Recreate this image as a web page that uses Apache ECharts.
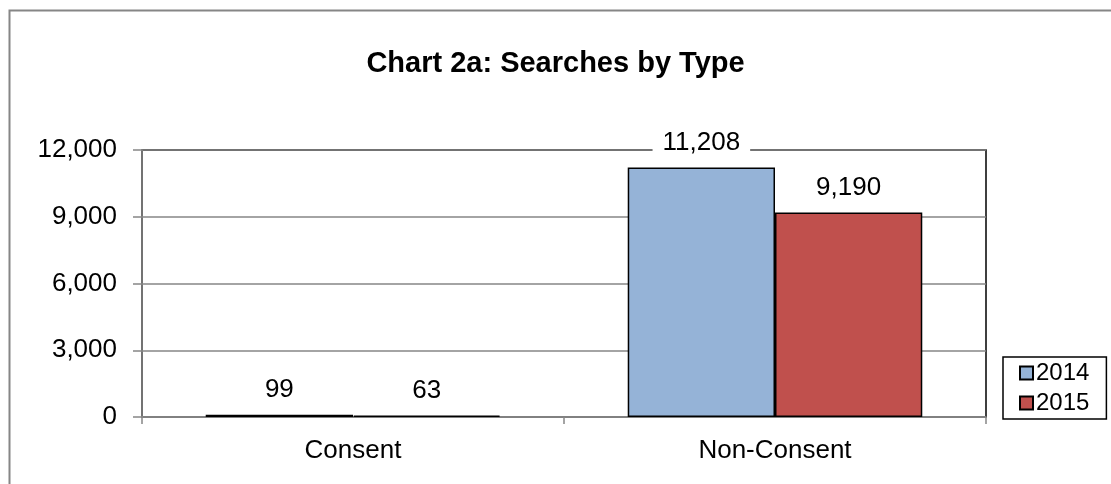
<!DOCTYPE html>
<html>
<head>
<meta charset="utf-8">
<script src="https://cdn.jsdelivr.net/npm/echarts@6/dist/echarts.min.js"></script>
<style>
html,body{margin:0;padding:0;background:#fff;}
#chart{width:1111px;height:484px;}
</style>
</head>
<body>
<div id="chart"></div>
<script>
var categories = ['Consent', 'Non-Consent'];
var seriesNames = ['2014', '2015'];
var values2014 = [99, 11208];
var values2015 = [63, 9190];
var yTicks = [0, 3000, 6000, 9000, 12000];

var FONT = "'Liberation Sans', Arial, sans-serif";
var chart = echarts.init(document.getElementById('chart'));
function fmt(v){ return echarts.format.addCommas(v); }
var labelCfg = {
  show: true, position: 'top', distance: 12,
  fontFamily: FONT, fontSize: 26, color: '#000',
  backgroundColor: '#fff', padding: [0, 10], lineHeight: 26,
  formatter: function(p){ return fmt(p.value); }
};
chart.setOption({
  backgroundColor: '#fff',
  animation: false,
  title: {
    text: 'Chart 2a: Searches by Type',
    left: 'center', top: 44,
    textStyle: {fontFamily: FONT, fontSize: 29, fontWeight: 'bold', color: '#000'}
  },
  graphic: [{
    type: 'rect', left: 7, top: 8, z: -10,
    shape: {width: 1300, height: 700},
    style: {fill: 'none', stroke: '#868686', lineWidth: 2}
  }],
  legend: {
    orient: 'vertical', left: 1003, top: 357,
    data: seriesNames,
    itemWidth: 13, itemHeight: 13, itemGap: 6,
    padding: [4, 17, 4, 16],
    borderColor: '#000', borderWidth: 1.5,
    textStyle: {fontFamily: FONT, fontSize: 24, color: '#000', lineHeight: 24, padding: [0,0,0,-2]},
    icon: 'rect'
  },
  grid: {
    left: 142, right: 125, top: 150, bottom: 67,
    show: true, borderColor: '#000', borderWidth: 1.5, backgroundColor: 'transparent'
  },
  xAxis: {
    type: 'category', data: categories,
    axisLine: {show: true, lineStyle: {color: '#868686', width: 1.5}},
    axisTick: {show: true, length: 7, lineStyle: {color: '#868686', width: 1.5}},
    axisLabel: {fontFamily: FONT, fontSize: 26, color: '#000', margin: 21}
  },
  yAxis: {
    type: 'value', min: 0, max: 12000, interval: 3000,
    axisLine: {show: true, lineStyle: {color: '#868686', width: 1.5}},
    axisTick: {show: true, length: 9, lineStyle: {color: '#868686', width: 1.5}},
    splitLine: {show: true, lineStyle: {color: '#868686', width: 1.5}},
    axisLabel: {fontFamily: FONT, fontSize: 26, color: '#000', margin: 25,
      formatter: function(v){ return yTicks.indexOf(v) >= 0 ? fmt(v) : ''; }}
  },
  series: [{
    name: seriesNames[0], type: 'bar', data: values2014,
    barGap: '0%', barCategoryGap: '30.2%',
    itemStyle: {color: '#95B3D7', borderColor: '#000', borderWidth: 1.5},
    label: labelCfg
  }, {
    name: seriesNames[1], type: 'bar', data: values2015,
    itemStyle: {color: '#C0504D', borderColor: '#000', borderWidth: 1.5},
    label: labelCfg
  }]
});
</script>
</body>
</html>
